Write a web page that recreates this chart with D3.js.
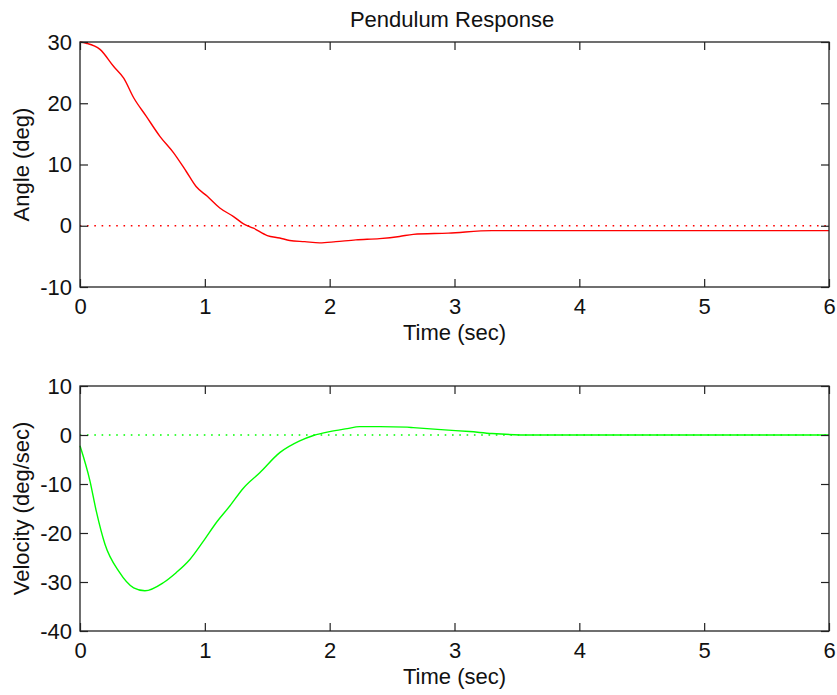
<!DOCTYPE html>
<html>
<head>
<meta charset="utf-8">
<script src="https://cdn.jsdelivr.net/npm/d3@7"></script>
<style>
  body { margin: 0; background: #fff; }
  svg { display: block; font-family: "Liberation Sans", Arial, Helvetica, sans-serif; }
  .axis text { font-size: 22px; fill: #111; }
  .axis path { display: none; }
  .axis line { stroke: #222; stroke-width: 1.2; }
  .label { font-size: 22px; fill: #111; }
</style>
</head>
<body>
<div id="chart"></div>
<script>
var WIDTH = 837;
var HEIGHT = 695;

var TITLE = 'Pendulum Response';
var X_LABEL = 'Time (sec)';
var X_TICKS = [0, 1, 2, 3, 4, 5, 6];

// angle response (deg)
var angleTime = [0, 0.05, 0.16, 0.27, 0.35, 0.43, 0.53, 0.64, 0.75, 0.85, 0.93, 1.02, 1.12, 1.23, 1.31, 1.39, 1.5, 1.6, 1.68, 1.8, 1.92, 2.05, 2.21, 2.4, 2.56, 2.67, 2.95, 3.3, 6];
var angleValue = [30, 29.8, 28.8, 26, 24.1, 20.9, 17.9, 14.6, 11.9, 8.9, 6.4, 4.8, 2.9, 1.5, 0.3, -0.4, -1.6, -2.0, -2.4, -2.6, -2.8, -2.6, -2.3, -2.1, -1.75, -1.4, -1.2, -0.8, -0.8];
var angleTicks = [-10, 0, 10, 20, 30];

// angular velocity (deg/sec)
var velTime = [0, 0.08, 0.13, 0.2, 0.31, 0.43, 0.52, 0.67, 0.77, 0.88, 0.99, 1.1, 1.2, 1.31, 1.44, 1.6, 1.76, 1.87, 2.0, 2.14, 2.24, 2.4, 2.62, 2.67, 2.95, 3.12, 3.3, 3.63, 6];
var velValue = [-2.2, -9.4, -15.5, -22.3, -27.8, -31.2, -31.8, -30.1, -28.1, -25.4, -21.6, -17.6, -14.5, -10.8, -7.7, -3.6, -1.2, -0.1, 0.7, 1.3, 1.7, 1.7, 1.6, 1.5, 1.0, 0.7, 0.3, 0, 0];
var velTicks = [-40, -30, -20, -10, 0, 10];

var svg = d3.select('#chart').append('svg')
  .attr('width', WIDTH)
  .attr('height', HEIGHT);

// plain hyphen minus, no decimals
function fmt (d) { return String(d); }

function drawPanel (opts) {
  var x = d3.scaleLinear().domain([0, 6]).range([80, 829]);
  var y = d3.scaleLinear().domain(opts.domain).range([opts.bottom, opts.top]);
  var g = svg.append('g');

  var points = opts.time.map(function (t, i) { return [t, opts.values[i]]; });

  // dotted zero reference
  g.append('line')
    .attr('x1', x(0)).attr('x2', x(6))
    .attr('y1', y(0)).attr('y2', y(0))
    .attr('stroke', opts.color)
    .attr('stroke-width', 1.6)
    .attr('stroke-dasharray', '1.6,5.7')
    .attr('stroke-dashoffset', -7);

  g.append('path')
    .datum(points)
    .attr('fill', 'none')
    .attr('stroke', opts.color)
    .attr('stroke-width', 1.4)
    .attr('d', d3.line()
      .curve(d3.curveMonotoneX)
      .x(function (d) { return x(d[0]); })
      .y(function (d) { return y(d[1]); }));

  // frame
  g.append('rect')
    .attr('x', x(0)).attr('y', opts.top)
    .attr('width', x(6) - x(0)).attr('height', opts.bottom - opts.top)
    .attr('fill', 'none')
    .attr('stroke', '#222')
    .attr('stroke-width', 1.3);

  g.append('g').attr('class', 'axis')
    .attr('transform', 'translate(0,' + opts.bottom + ')')
    .call(d3.axisBottom(x).tickValues(X_TICKS).tickFormat(fmt).tickSizeInner(-8).tickSizeOuter(0).tickPadding(11));
  g.append('g').attr('class', 'axis')
    .attr('transform', 'translate(0,' + opts.top + ')')
    .call(d3.axisTop(x).tickValues(X_TICKS).tickSizeInner(-8).tickSizeOuter(0).tickFormat(''));
  g.append('g').attr('class', 'axis')
    .attr('transform', 'translate(' + x(0) + ',0)')
    .call(d3.axisLeft(y).tickValues(opts.ticks).tickFormat(fmt).tickSizeInner(-8).tickSizeOuter(0).tickPadding(8));
  g.append('g').attr('class', 'axis')
    .attr('transform', 'translate(' + x(6) + ',0)')
    .call(d3.axisRight(y).tickValues(opts.ticks).tickSizeInner(-8).tickSizeOuter(0).tickFormat(''));

  g.append('text')
    .attr('class', 'label')
    .attr('x', (x(0) + x(6)) / 2)
    .attr('y', opts.bottom + 53)
    .attr('text-anchor', 'middle')
    .text(X_LABEL);

  g.append('text')
    .attr('class', 'label')
    .attr('transform', 'translate(29,' + (opts.top + opts.bottom) / 2 + ') rotate(-90)')
    .attr('text-anchor', 'middle')
    .text(opts.yLabel);
}

svg.append('text')
  .attr('class', 'label')
  .attr('x', 452)
  .attr('y', 27)
  .attr('text-anchor', 'middle')
  .text(TITLE);

drawPanel({
  time: angleTime, values: angleValue, domain: [-10, 30], ticks: angleTicks,
  top: 42, bottom: 287, color: '#ff0000', yLabel: 'Angle (deg)'
});

drawPanel({
  time: velTime, values: velValue, domain: [-40, 10], ticks: velTicks,
  top: 386, bottom: 631, color: '#00ff00', yLabel: 'Velocity (deg/sec)'
});
</script>
</body>
</html>
